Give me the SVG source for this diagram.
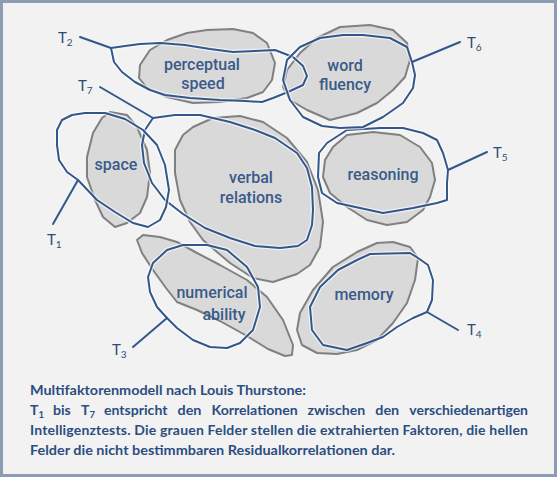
<svg xmlns="http://www.w3.org/2000/svg" width="559" height="480" viewBox="0 0 559 480">
<style>
.blob{fill:#d9d9d9;stroke:#808080;stroke-width:2;stroke-linejoin:round}
.halo{fill:none;stroke:#ffffff;stroke-opacity:0.65;stroke-width:4.5;stroke-linejoin:round;stroke-linecap:round}
.loop{fill:none;stroke:#33578a;stroke-width:2;stroke-linejoin:round;stroke-linecap:round}
.lbl{font-family:Roboto,"Liberation Sans",sans-serif;font-size:16px;font-weight:500;fill:#3a5a8a;text-anchor:middle}
.t{font-family:Lato,"Liberation Sans",sans-serif;font-size:15px;fill:#2c4b7a}
.t tspan{font-size:10px}
.cap{font-family:Lato,"Liberation Sans",sans-serif;font-size:14px;font-weight:bold;fill:#2c4d80}
.cap tspan{font-size:9.5px}
</style>
<rect x="0" y="0" width="559" height="480" fill="#ffffff"/>
<rect x="1.5" y="1.5" width="554" height="474" fill="#f2f2f2" stroke="#8c9cb4" stroke-width="3"/>

<g id="factors">
<g id="f-perceptual">
<path class="blob" d="M140,65 L150,50 L167,40 L187,33 L207,30 L233,29 L253,33 L267,43 L275,63 L272,80 L263,92 L247,98 L220,102 L193,103 L167,97 L147,88 L139,78 Z"/>
<text class="lbl" x="202" y="70">perceptual</text>
<text class="lbl" x="203" y="89">speed</text>
</g>
<g id="f-word">
<path class="blob" d="M317,38 L340,27 L370,25 L393,30 L407,43 L410,60 L405,77 L393,90 L377,103 L357,113 L330,120 L307,110 L290,100 L283,87 L287,70 L300,53 Z"/>
<text class="lbl" x="345" y="71">word</text>
<text class="lbl" x="345" y="90">fluency</text>
</g>
<g id="f-space">
<path class="blob" d="M110,112 L127,115 L137,127 L147,150 L150,173 L147,197 L140,213 L127,223 L115,227 L103,217 L95,200 L87,177 L87,157 L93,133 L102,118 Z"/>
<text class="lbl" x="116" y="170">space</text>
</g>
<g id="f-verbal">
<path class="blob" d="M193,127 L213,118 L240,116 L263,122 L287,138 L307,162 L318,190 L323,222 L320,247 L310,265 L297,274 L273,282 L253,278 L230,263 L203,240 L190,222 L180,200 L175,173 L175,150 L183,135 Z"/>
<text class="lbl" x="251" y="183">verbal</text>
<text class="lbl" x="251" y="203">relations</text>
</g>
<g id="f-reasoning">
<path class="blob" d="M333,147 L347,135 L373,132 L400,135 L420,147 L432,163 L435,180 L430,197 L423,210 L407,222 L387,225 L367,220 L347,207 L330,193 L323,177 L325,160 Z"/>
<text class="lbl" x="383" y="180">reasoning</text>
</g>
<g id="f-numerical">
<path class="blob" d="M137,240 L143,235 L160,237 L177,242 L197,253 L220,265 L247,280 L267,297 L283,320 L293,345 L292,355 L285,356 L268,349 L247,336 L220,321 L197,310 L177,302 L166,288 L153,270 L142,253 Z"/>
<text class="lbl" x="212" y="298">numerical</text>
<text class="lbl" x="224" y="320">ability</text>
</g>
<g id="f-memory">
<path class="blob" d="M377,243 L393,242 L410,247 L418,258 L415,280 L407,303 L393,323 L377,340 L357,350 L337,354 L317,353 L302,345 L297,330 L300,313 L313,290 L333,267 L357,252 Z"/>
<text class="lbl" x="364" y="300">memory</text>
</g>
</g>

<g id="tests">
<g id="t2">
<path class="halo" d="M111,48 L125,46 L140,44 L160,43 L185,45 L210,49 L233,52 L255,51 L275,50 L293,57 L303,66 L307,76 L303,85 L288,92 L273,98 L262,102 L245,101 L220,100 L190,98 L165,95 L150,90 L135,82 L122,72 L114,62 Z"/>
<path class="loop" d="M111,48 L125,46 L140,44 L160,43 L185,45 L210,49 L233,52 L255,51 L275,50 L293,57 L303,66 L307,76 L303,85 L288,92 L273,98 L262,102 L245,101 L220,100 L190,98 L165,95 L150,90 L135,82 L122,72 L114,62 Z"/>
<text class="t" x="58" y="43">T<tspan dy="3">2</tspan></text>
</g>
<g id="t7">
<path class="halo" d="M153,118 L175,115 L200,115 L230,122 L255,130 L275,138 L297,153 L307,168 L312,187 L313,210 L312,225 L307,240 L298,246 L280,248 L255,246 L230,238 L205,228 L183,214 L165,200 L152,183 L144,163 L142,145 L145,130 Z"/>
<path class="loop" d="M153,118 L175,115 L200,115 L230,122 L255,130 L275,138 L297,153 L307,168 L312,187 L313,210 L312,225 L307,240 L298,246 L280,248 L255,246 L230,238 L205,228 L183,214 L165,200 L152,183 L144,163 L142,145 L145,130 Z"/>
<text class="t" x="78" y="91">T<tspan dy="3">7</tspan></text>
</g>
<g id="t1">
<path class="halo" d="M78,180 L67,172 L59,160 L57,145 L57,130 L62,120 L72,115 L85,113 L105,113 L125,119 L143,130 L157,145 L165,165 L169,190 L166,207 L160,220 L148,227 L133,223 L115,212 L97,200 Z"/>
<path class="loop" d="M78,180 L67,172 L59,160 L57,145 L57,130 L62,120 L72,115 L85,113 L105,113 L125,119 L143,130 L157,145 L165,165 L169,190 L166,207 L160,220 L148,227 L133,223 L115,212 L97,200 Z"/>
<text class="t" x="47" y="245">T<tspan dy="3">1</tspan></text>
</g>
<g id="t3">
<path class="halo" d="M167,318 L157,307 L150,292 L148,277 L153,263 L167,250 L183,245 L207,245 L227,250 L247,267 L258,287 L260,307 L253,330 L240,343 L227,348 L210,347 L193,340 L177,328 Z"/>
<path class="loop" d="M167,318 L157,307 L150,292 L148,277 L153,263 L167,250 L183,245 L207,245 L227,250 L247,267 L258,287 L260,307 L253,330 L240,343 L227,348 L210,347 L193,340 L177,328 Z"/>
<text class="t" x="112" y="355">T<tspan dy="3">3</tspan></text>
</g>
<g id="t4">
<path class="halo" d="M427,312 L432,300 L433,280 L428,265 L418,258 L410,253 L370,254 L357,260 L338,270 L320,287 L310,307 L312,330 L323,345 L347,350 L367,343 L383,337 L397,327 L413,318 Z"/>
<path class="loop" d="M427,312 L432,300 L433,280 L428,265 L418,258 L410,253 L370,254 L357,260 L338,270 L320,287 L310,307 L312,330 L323,345 L347,350 L367,343 L383,337 L397,327 L413,318 Z"/>
<text class="t" x="467" y="335">T<tspan dy="3">4</tspan></text>
</g>
<g id="t5">
<path class="halo" d="M448,170 L443,153 L437,140 L423,133 L403,128 L380,128 L347,130 L327,143 L319,153 L318,177 L322,193 L337,203 L360,208 L383,213 L413,208 L437,203 L447,200 L447,183 Z"/>
<path class="loop" d="M448,170 L443,153 L437,140 L423,133 L403,128 L380,128 L347,130 L327,143 L319,153 L318,177 L322,193 L337,203 L360,208 L383,213 L413,208 L437,203 L447,200 L447,183 Z"/>
<text class="t" x="493" y="158">T<tspan dy="3">5</tspan></text>
</g>
<g id="t6">
<path class="halo" d="M412,62 L407,47 L390,38 L363,35 L343,35 L320,38 L300,47 L287,60 L283,80 L290,100 L303,117 L322,126 L340,128 L363,127 L383,117 L403,103 L413,88 L415,75 Z"/>
<path class="loop" d="M412,62 L407,47 L390,38 L363,35 L343,35 L320,38 L300,47 L287,60 L283,80 L290,100 L303,117 L322,126 L340,128 L363,127 L383,117 L403,103 L413,88 L415,75 Z"/>
<text class="t" x="467" y="48">T<tspan dy="3">6</tspan></text>
</g>
</g>

<g id="connectors">
<line class="loop" x1="80" y1="37" x2="111" y2="48"/>
<line class="loop" x1="100" y1="87" x2="153" y2="118"/>
<line class="loop" x1="53" y1="224" x2="78" y2="180"/>
<line class="loop" x1="133" y1="347" x2="167" y2="318"/>
<line class="loop" x1="458" y1="330" x2="427" y2="312"/>
<line class="loop" x1="487" y1="152" x2="448" y2="170"/>
<line class="loop" x1="460" y1="42" x2="412" y2="62"/>
</g>

<g id="caption" class="cap">
<text x="30" y="395" textLength="276" lengthAdjust="spacingAndGlyphs">Multifaktorenmodell nach Louis Thurstone:</text>
<text x="30" y="415">T<tspan dy="3">1</tspan></text>
<text x="53" y="415" textLength="17.8" lengthAdjust="spacingAndGlyphs">bis</text>
<text x="81" y="415">T<tspan dy="3">7</tspan></text>
<text x="104" y="415" textLength="63.5" lengthAdjust="spacingAndGlyphs">entspricht</text>
<text x="177.5" y="415" textLength="23.9" lengthAdjust="spacingAndGlyphs">den</text>
<text x="211.5" y="415" textLength="86.3" lengthAdjust="spacingAndGlyphs">Korrelationen</text>
<text x="307.5" y="415" textLength="57.8" lengthAdjust="spacingAndGlyphs">zwischen</text>
<text x="375.3" y="415" textLength="23.9" lengthAdjust="spacingAndGlyphs">den</text>
<text x="409.3" y="415" textLength="118.7" lengthAdjust="spacingAndGlyphs">verschiedenartigen</text>
<text x="30" y="435" textLength="498" lengthAdjust="spacing">Intelligenztests. Die grauen Felder stellen die extrahierten Faktoren, die hellen</text>
<text x="30" y="455" textLength="365" lengthAdjust="spacingAndGlyphs">Felder die nicht bestimmbaren Residualkorrelationen dar.</text>
</g>
</svg>
